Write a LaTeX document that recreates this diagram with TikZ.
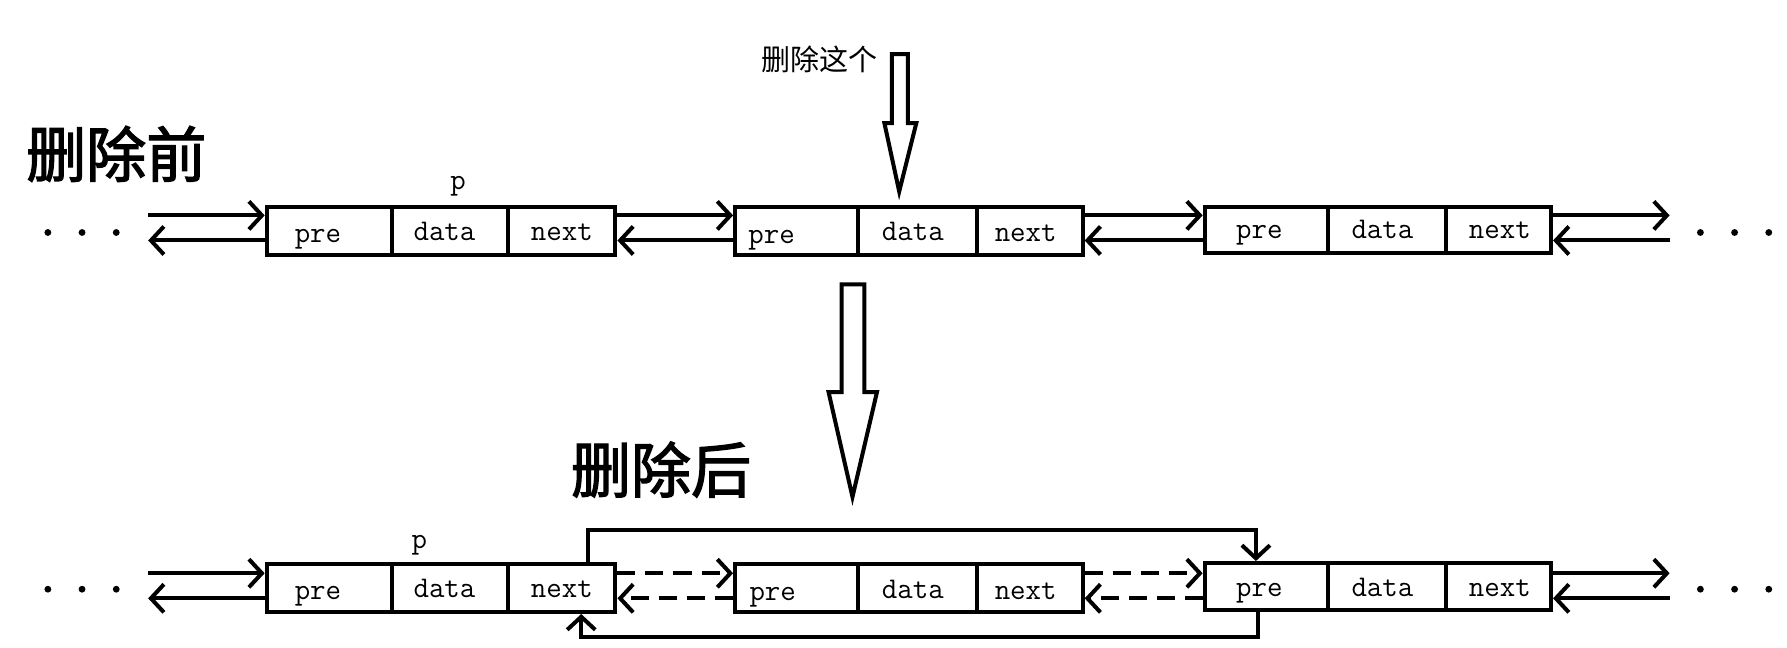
\documentclass[tikz,border=0pt]{standalone}
\usepackage{fontspec}
\newfontfamily\cjk{Noto Sans CJK SC}
\newfontfamily\cjkt[FakeBold=2.2]{Noto Sans CJK SC}
\usetikzlibrary{arrows.meta,calc}
\tikzset{
  cell/.style={draw, line width=2pt, inner sep=0pt, minimum height=42*0.02cm},
  txt/.style={font=\ttfamily\fontsize{15}{16}\selectfont, inner sep=0pt, anchor=base},
  conn/.style={line width=2pt, -{Straight Barb[length=6.5pt,width=14pt]}},
  dconn/.style={conn, dash pattern=on 9pt off 5pt},
  hollow/.style={line width=2pt, line join=miter},
  dot/.style={fill=black}
}
\begin{document}
\begin{tikzpicture}[x=0.02cm,y=-0.02cm]
\useasboundingbox (0,0) rectangle (1568,568);

% ---------- titles ----------
\node[font=\cjkt\fontsize{30}{32}\selectfont, inner sep=0pt] (tbefore) at (102,135) {删除前};
\node[font=\cjkt\fontsize{30}{32}\selectfont, inner sep=0pt] (tafter) at (580,412) {删除后};
\node[font=\cjk\fontsize{14.5}{16}\selectfont, inner sep=0pt] (tthis) at (719,52) {删除这个};

% ---------- hollow arrows ----------
\draw[hollow] (782.5,47.5) -- (796.5,47.5) -- (796.5,108) -- (804,108) -- (789,168) -- (776,108) -- (782.5,108) -- cycle;
\draw[hollow] (738.5,249.5) -- (758.5,249.5) -- (758.5,344) -- (769.5,344) -- (748,436) -- (727,344) -- (738.5,344) -- cycle;

% ---------- top row ----------
\node[cell, minimum width=110*0.02cm] (t1p) at (289,203) {};
\node[cell, minimum width=102*0.02cm] (t1d) at (395,203) {};
\node[cell, minimum width=94*0.02cm]  (t1n) at (493,203) {};
\node[cell, minimum width=108*0.02cm] (t2p) at (699,203) {};
\node[cell, minimum width=104*0.02cm] (t2d) at (805,203) {};
\node[cell, minimum width=93*0.02cm]  (t2n) at (903.5,203) {};
\node[cell, minimum width=108*0.02cm, minimum height=40*0.02cm] (t3p) at (1111,202) {};
\node[cell, minimum width=104*0.02cm, minimum height=40*0.02cm] (t3d) at (1217,202) {};
\node[cell, minimum width=92*0.02cm, minimum height=40*0.02cm]  (t3n) at (1315,202) {};

\node[txt] (t1pt) at (279,213) {pre};
\node[txt] (t1dt) at (390,211) {data};
\node[txt] (t1nt) at (493,211) {next};
\node[txt] (t2pt) at (677,214) {pre};
\node[txt] (t2dt) at (801,211) {data};
\node[txt] (t2nt) at (900,212) {next};
\node[txt] (t3pt) at (1105,209) {pre};
\node[txt] (t3dt) at (1213,209) {data};
\node[txt] (t3nt) at (1316,209) {next};
\node[txt] (tpl) at (402,166) {p};

\coordinate (tL1) at (130,189);
\coordinate (tL2) at (130,211);
\coordinate (tR1) at (1465,189);
\coordinate (tR2) at (1465,211);

\draw[conn] (tL1) -- (tL1 -| t1p.west);
\draw[conn] (tL2 -| t1p.west) -- (tL2);
\draw[conn] (t1n.east |- tL1) -- (t2p.west |- tL1);
\draw[conn] (t2p.west |- tL2) -- (t1n.east |- tL2);
\draw[conn] (t2n.east |- tL1) -- (t3p.west |- tL1);
\draw[conn] (t3p.west |- tL2) -- (t2n.east |- tL2);
\draw[conn] (t3n.east |- tR1) -- (tR1);
\draw[conn] (tR2) -- (t3n.east |- tR2);

\foreach \x in {42,72,102} \fill[dot] (\x,204) circle[radius=3];
\foreach \x in {1492,1522,1552} \fill[dot] (\x,204) circle[radius=3];

% ---------- bottom row ----------
\node[cell, minimum width=110*0.02cm] (b1p) at (289,516) {};
\node[cell, minimum width=102*0.02cm] (b1d) at (395,516) {};
\node[cell, minimum width=94*0.02cm]  (b1n) at (493,516) {};
\node[cell, minimum width=108*0.02cm] (b2p) at (699,516) {};
\node[cell, minimum width=104*0.02cm] (b2d) at (805,516) {};
\node[cell, minimum width=93*0.02cm]  (b2n) at (903.5,516) {};
\node[cell, minimum width=108*0.02cm, minimum height=41*0.02cm] (b3p) at (1111,514.5) {};
\node[cell, minimum width=104*0.02cm, minimum height=41*0.02cm] (b3d) at (1217,514.5) {};
\node[cell, minimum width=92*0.02cm, minimum height=41*0.02cm]  (b3n) at (1315,514.5) {};

\node[txt] (b1pt) at (279,526) {pre};
\node[txt] (b1dt) at (390,524) {data};
\node[txt] (b1nt) at (493,524) {next};
\node[txt] (b2pt) at (678,527) {pre};
\node[txt] (b2dt) at (801,525) {data};
\node[txt] (b2nt) at (900,526) {next};
\node[txt] (b3pt) at (1105,523) {pre};
\node[txt] (b3dt) at (1213,523) {data};
\node[txt] (b3nt) at (1316,523) {next};
\node[txt] (bpl) at (368,481) {p};

\coordinate (bL1) at (130,503);
\coordinate (bL2) at (130,525);
\coordinate (bR1) at (1465,503);
\coordinate (bR2) at (1465,525);

\draw[conn] (bL1) -- (bL1 -| b1p.west);
\draw[conn] (bL2 -| b1p.west) -- (bL2);
\draw[dconn] (b1n.east |- bL1) -- (b2p.west |- bL1);
\draw[dconn] (b2p.west |- bL2) -- (b1n.east |- bL2);
\draw[dconn] (b2n.east |- bL1) -- (b3p.west |- bL1);
\draw[dconn] (b3p.west |- bL2) -- (b2n.east |- bL2);
\draw[conn] (b3n.east |- bR1) -- (bR1);
\draw[conn] (bR2) -- (b3n.east |- bR2);

\draw[conn] ($(b1n.north)+(23,0)$) -- ++(0,-28) -| ($(b3p.north)+(-9,0)$);
\draw[conn] ($(b3p.south)+(-7,0)$) -- ++(0,22) -| ($(b1n.south)+(17,0)$);

\foreach \x in {42,72,102} \fill[dot] (\x,517) circle[radius=3];
\foreach \x in {1492,1522,1552} \fill[dot] (\x,517) circle[radius=3];
\end{tikzpicture}
\end{document}
